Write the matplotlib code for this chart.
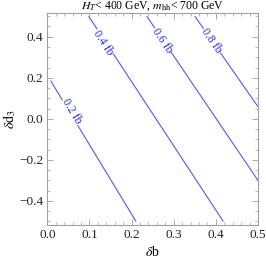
import matplotlib
matplotlib.use("Agg")
import matplotlib.pyplot as plt
import numpy as np
from matplotlib.ticker import MultipleLocator

plt.rcParams['font.family'] = ['Liberation Serif', 'DejaVu Serif']
plt.rcParams['mathtext.fontset'] = 'stix'

# contour lines (delta b, delta d3 end points)
levels = ['0.2 fb', '0.4 fb', '0.6 fb', '0.8 fb']
line_b = [[0.008, 0.2105], [0.098, 0.4177], [0.236, 0.4993], [0.350, 0.500]]
line_d3 = [[0.185, -0.500], [0.500, -0.500], [0.500, -0.298], [0.500, 0.059]]
label_b = [0.058, 0.133, 0.2715, 0.390]
label_d3 = [0.035, 0.371, 0.380, 0.380]

line_col = '#5555ff'
text_col = '#2b2bff'
frame_col = '#a0a0a0'

fig = plt.figure(figsize=(2.66, 2.61), dpi=100)
ax = fig.add_axes([0.178, 0.138, 0.792, 0.811])
ax.set_xlim(0, 0.5)
ax.set_ylim(-0.517, 0.514)

for bx, dy in zip(line_b, line_d3):
    ax.plot(bx, dy, color=line_col, lw=0.8, solid_capstyle='butt')

fig.canvas.draw()
for lab, bx, dy, lx, ly in zip(levels, line_b, line_d3, label_b, label_d3):
    p = ax.transData.transform(np.column_stack([bx, dy]))
    ang = np.degrees(np.arctan2(p[1, 1] - p[0, 1], p[1, 0] - p[0, 0]))
    ax.text(lx, ly, lab, color=text_col, fontsize=8.5, rotation=ang,
            rotation_mode='anchor', ha='center', va='center',
            bbox=dict(facecolor='white', edgecolor='none', pad=0.6))

ax.xaxis.set_major_locator(MultipleLocator(0.1))
ax.xaxis.set_minor_locator(MultipleLocator(0.02))
ax.yaxis.set_major_locator(MultipleLocator(0.2))
ax.yaxis.set_minor_locator(MultipleLocator(0.05))
ax.xaxis.set_major_formatter(matplotlib.ticker.FormatStrFormatter('%.1f'))
ax.yaxis.set_major_formatter(matplotlib.ticker.FuncFormatter(
    lambda v, pos: ('%.1f' % v).replace('-', '\u2212') if abs(v) > 1e-9 else '0.0'))
ax.tick_params(which='both', direction='in', top=True, right=True,
               color=frame_col, labelsize=9.5, labelcolor='#222222', pad=3)
ax.tick_params(which='major', length=4, width=0.6)
ax.tick_params(which='minor', length=2, width=0.5)
for s in ax.spines.values():
    s.set_color(frame_col)
    s.set_linewidth(0.8)

ax.set_xlabel(r'$\delta$b', fontsize=10, labelpad=3)
ax.set_ylabel(r'$\delta\mathrm{d}_3$', fontsize=10, labelpad=1)
ax.set_title(r'$H_T$< 400 GeV, $m_{\mathrm{hh}}$< 700 GeV', fontsize=8.5, pad=1.5)

fig.savefig('out.png', dpi=100)
